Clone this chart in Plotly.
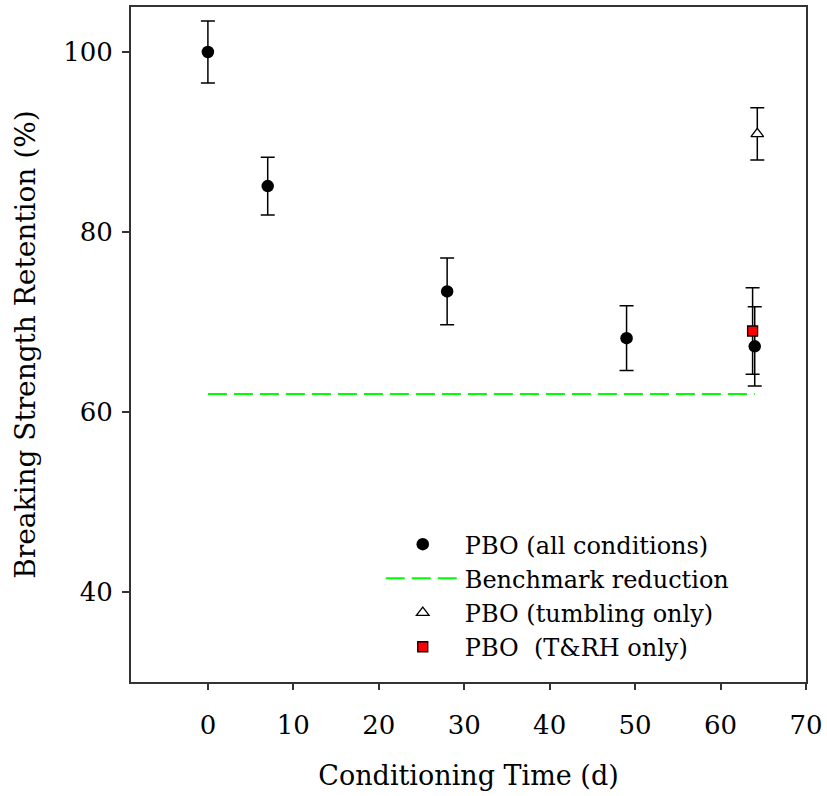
import plotly.graph_objects as go

# Data
all_x = [0, 7, 28, 49, 64]
all_y = [100.0, 85.1, 73.4, 68.2, 67.3]
all_err = [3.45, 3.2, 3.7, 3.6, 4.4]

bench_x = [0, 64]
bench_y = [62, 62]

tumb_x = [64.3]
tumb_y = [90.9]
tumb_err = [2.9]

trh_x = [63.75]
trh_y = [69.0]
trh_err = [4.8]

x_ticks = [0, 10, 20, 30, 40, 50, 60, 70]
y_ticks = [40, 60, 80, 100]

FONT = "DejaVu Serif"

fig = go.Figure()

fig.add_trace(go.Scatter(
    x=all_x, y=all_y, mode="markers", name="PBO (all conditions)",
    marker=dict(symbol="circle", size=12.5, color="black"),
    error_y=dict(type="data", array=all_err, visible=True, color="black", thickness=1.5, width=7),
))
fig.add_trace(go.Scatter(
    x=bench_x, y=bench_y, mode="lines", name="Benchmark reduction",
    line=dict(color="#00ff00", width=2, dash="19px,7px"),
))
fig.add_trace(go.Scatter(
    x=tumb_x, y=tumb_y, mode="markers", name="PBO (tumbling only)",
    marker=dict(symbol="triangle-up", size=11, color="white", line=dict(color="black", width=1.3)),
    error_y=dict(type="data", array=tumb_err, visible=True, color="black", thickness=1.5, width=7),
))
fig.add_trace(go.Scatter(
    x=trh_x, y=trh_y, mode="markers", name="PBO  (T&RH only)",
    marker=dict(symbol="square", size=10, color="red", line=dict(color="black", width=1.3)),
    error_y=dict(type="data", array=trh_err, visible=True, color="black", thickness=1.5, width=7),
))

fig.update_layout(
    width=827, height=796,
    margin=dict(l=131, r=21, t=7, b=114, autoexpand=False),
    paper_bgcolor="white", plot_bgcolor="white",
    font=dict(family=FONT, size=22, color="black"),
    showlegend=True,
    legend=dict(
        x=0.370, y=0.237, xanchor="left", yanchor="top",
        bgcolor="rgba(0,0,0,0)", borderwidth=0,
        font=dict(family=FONT, size=24, color="black"),
        tracegroupgap=0, itemwidth=74,
    ),
    xaxis=dict(
        range=[-9, 70], tickvals=x_ticks, ticks="outside", ticklen=6, tickwidth=1.5,
        tickcolor="#333", showline=True, linecolor="#333", linewidth=2, mirror=True,
        showgrid=False, zeroline=False, tickfont=dict(size=26),
        ticklabelstandoff=13, ticklabeloverflow="allow", automargin=False,
        title=dict(text="Conditioning Time (d)", font=dict(size=27), standoff=27),
    ),
    yaxis=dict(
        range=[30, 105], tickvals=y_ticks, ticks="outside", ticklen=7, tickwidth=1.5,
        tickcolor="#333", showline=True, linecolor="#333", linewidth=2, mirror=True,
        showgrid=False, zeroline=False, tickfont=dict(size=26),
        ticklabelstandoff=4, automargin=False,
        title=dict(text="Breaking Strength Retention (%)", font=dict(size=28), standoff=19),
    ),
)

fig.write_html("out.html", config={"displayModeBar": False},
               post_script="document.body.style.margin='0px';")
